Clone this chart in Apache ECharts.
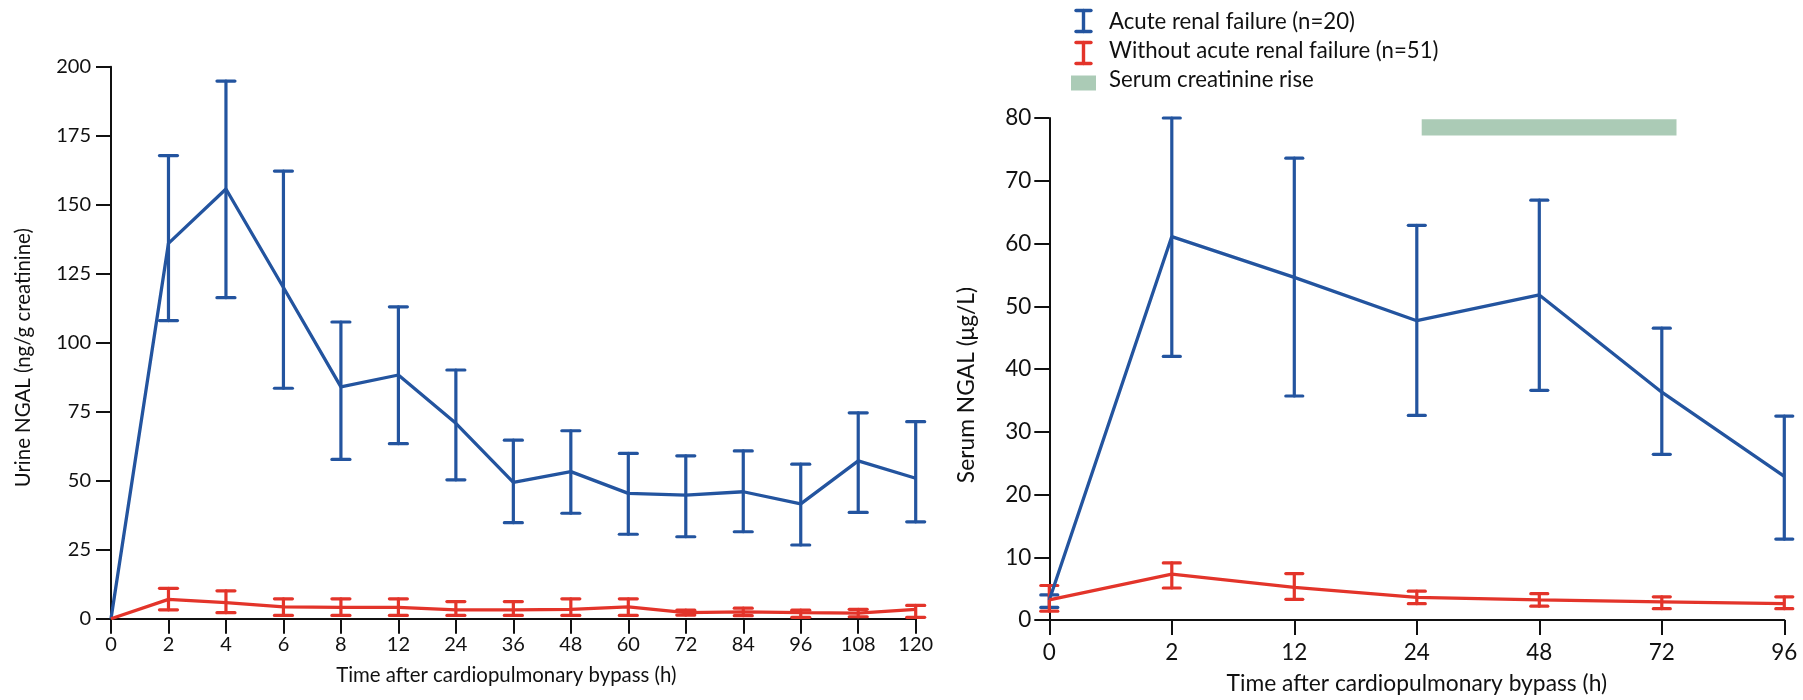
<!DOCTYPE html>
<html>
<head>
<meta charset="utf-8">
<script src="https://cdn.jsdelivr.net/npm/echarts@6/dist/echarts.min.js"></script>
<style>
  html, body { margin: 0; padding: 0; background: #fff; }
  #chart { width: 1803px; height: 700px; }
</style>
</head>
<body>
<div id="chart"></div>
<script>
// Urine NGAL (left panel), time points after cardiopulmonary bypass
const urineHours = ['0', '2', '4', '6', '8', '12', '24', '36', '48', '60', '72', '84', '96', '108', '120'];
const urineArfMean  = [0, 136, 155.7, 120, 84, 88.3, 70.8, 49.4, 53.3, 45.4, 44.8, 46, 41.6, 57.2, 50.9];
const urineArfUpper = [null, 167.8, 194.8, 162.2, 107.5, 113, 90.1, 64.7, 68.1, 59.9, 59, 60.8, 56, 74.6, 71.4];
const urineArfLower = [null, 108, 116.3, 83.5, 57.7, 63.4, 50.3, 34.8, 38.2, 30.6, 29.7, 31.5, 26.7, 38.5, 35.1];
const urineNoArfMean  = [0, 7, 5.8, 4.3, 4.1, 4.1, 3.2, 3.2, 3.4, 4.3, 2.2, 2.5, 2.2, 2.0, 3.4];
const urineNoArfUpper = [null, 11, 10.1, 7.2, 7.2, 7.2, 6.2, 6.2, 7.2, 7.2, 3.1, 3.8, 3.1, 3.4, 4.8];
const urineNoArfLower = [null, 3.2, 2.2, 1.2, 1.2, 1.2, 1.2, 1.2, 1.2, 1.2, 1.3, 1.1, 0.5, 0.7, 0.5];
const urineTicks = [0, 25, 50, 75, 100, 125, 150, 175, 200];

// Serum NGAL (right panel)
const serumHours = ['0', '2', '12', '24', '48', '72', '96'];
const serumArfMean  = [3.2, 61.1, 54.6, 47.7, 51.8, 36.3, 22.9];
const serumArfUpper = [4.0, 80, 73.6, 62.9, 66.9, 46.5, 32.5];
const serumArfLower = [2.0, 42.0, 35.7, 32.6, 36.6, 26.4, 12.9];
const serumNoArfMean  = [3.2, 7.3, 5.2, 3.6, 3.2, 2.9, 2.6];
const serumNoArfUpper = [5.5, 9.1, 7.4, 4.6, 4.2, 3.7, 3.7];
const serumNoArfLower = [1.4, 5.1, 3.3, 2.6, 2.2, 1.8, 1.8];
const serumTicks = [0, 10, 20, 30, 40, 50, 60, 70, 80];

// Serum creatinine rise span: [start, end] along the time-point axis, [low, high] in µg/L
const creatinineRise = [[3.04, 5.12, 77.2, 79.8]];

const seriesNames = ['Acute renal failure (n=20)', 'Without acute renal failure (n=51)', 'Serum creatinine rise'];

const BLUE = '#23549f';
const RED = '#e3342a';
const GREEN = '#abcbb6';
const FONT = 'Lato';

function errorData(upper, lower) {
  const out = [];
  upper.forEach((u, i) => { if (u != null) out.push([i, u, lower[i]]); });
  return out;
}

function errorRenderer(color, capW) {
  return function (params, api) {
    const x = api.value(0);
    const top = api.coord([x, api.value(1)]);
    const bot = api.coord([x, api.value(2)]);
    const st = { stroke: color, lineWidth: 3.2, lineCap: 'round' };
    const h = capW / 2;
    return {
      type: 'group',
      children: [
        { type: 'line', shape: { x1: top[0], y1: top[1], x2: bot[0], y2: bot[1] }, style: st },
        { type: 'line', shape: { x1: top[0] - h, y1: top[1], x2: top[0] + h, y2: top[1] }, style: st },
        { type: 'line', shape: { x1: bot[0] - h, y1: bot[1], x2: bot[0] + h, y2: bot[1] }, style: st }
      ]
    };
  };
}

function barRenderer(params, api) {
  const p0 = api.coord([api.value(0), api.value(3)]);
  const p1 = api.coord([api.value(1), api.value(2)]);
  return {
    type: 'rect',
    shape: { x: p0[0], y: p0[1], width: p1[0] - p0[0], height: p1[1] - p0[1] },
    style: { fill: GREEN }
  };
}

function catAxis(gridIndex, data, fontSize, margin, name, nameGap, nameSize, namePad) {
  return {
    type: 'category', gridIndex, data, boundaryGap: false,
    axisLine: { lineStyle: { color: '#111', width: 2 } },
    axisTick: { alignWithLabel: true, length: 15, inside: false, lineStyle: { color: '#111', width: 2 } },
    axisLabel: { color: '#111', fontSize, fontFamily: FONT, margin, interval: 0 },
    name, nameLocation: 'middle', nameGap,
    nameTextStyle: { color: '#111', fontSize: nameSize, fontFamily: FONT, padding: namePad }
  };
}

function valAxis(gridIndex, ticks, fontSize, margin, name, nameGap, nameSize, namePad) {
  return {
    type: 'value', gridIndex,
    min: ticks[0], max: ticks[ticks.length - 1], interval: ticks[1] - ticks[0],
    splitLine: { show: false },
    axisLine: { show: true, lineStyle: { color: '#111', width: 2 } },
    axisTick: { show: true, length: 15, lineStyle: { color: '#111', width: 2 } },
    axisLabel: { color: '#111', fontSize, fontFamily: FONT, margin },
    name, nameLocation: 'middle', nameGap,
    nameTextStyle: { color: '#111', fontSize: nameSize, fontFamily: FONT, padding: namePad }
  };
}

const chart = echarts.init(document.getElementById('chart'), null, { renderer: 'canvas' });

// legend drawn as graphic items: error-bar glyphs and a swatch
const legendX = 1109;
const legendRows = [22, 51, 80];
function iGlyph(cx, cy, color) {
  const st = { stroke: color, lineWidth: 3.4, lineCap: 'round' };
  return [
    { type: 'line', shape: { x1: cx, y1: cy - 10.5, x2: cx, y2: cy + 10.5 }, style: st },
    { type: 'line', shape: { x1: cx - 7.5, y1: cy - 10.5, x2: cx + 7.5, y2: cy - 10.5 }, style: st },
    { type: 'line', shape: { x1: cx - 7.5, y1: cy + 10.5, x2: cx + 7.5, y2: cy + 10.5 }, style: st }
  ];
}

const legendGraphics = [].concat(
  iGlyph(1083.5, 21, BLUE),
  iGlyph(1083.5, 53, RED),
  [{ type: 'rect', shape: { x: 1071, y: 75.5, width: 25, height: 15 }, style: { fill: GREEN } }],
  seriesNames.map((t, i) => ({
    type: 'text', x: legendX, y: legendRows[i],
    style: { text: t, fill: '#111', font: '22.2px ' + FONT, textVerticalAlign: 'middle' }
  }))
);

chart.setOption({
  animation: false,
  backgroundColor: '#fff',
  grid: [
    { left: 111, top: 66.7, right: 887.3, bottom: 81.3 },
    { left: 1049.3, top: 118, right: 18.7, bottom: 79 }
  ],
  xAxis: [
    catAxis(0, urineHours, 20, 16, 'Time after cardiopulmonary bypass (h)', 47, 20.4, [0, 14, 0, 0]),
    catAxis(1, serumHours, 22.5, 21, 'Time after cardiopulmonary bypass (h)', 52, 22.8, 0),
    { type: 'value', gridIndex: 1, min: 0, max: serumHours.length - 1, show: false }
  ],
  yAxis: [
    valAxis(0, urineTicks, 20, 20, 'Urine NGAL (ng/g creatinine)', 78, 20.4, [0, 30, 0, 0]),
    valAxis(1, serumTicks, 22.5, 18, 'Serum NGAL (μg/L)', 71, 22.8, [0, 32, 0, 0])
  ],
  graphic: legendGraphics,
  series: [
    { type: 'custom', xAxisIndex: 2, yAxisIndex: 1, renderItem: barRenderer, data: creatinineRise, clip: false, silent: true },
    { type: 'line', name: seriesNames[0], xAxisIndex: 0, yAxisIndex: 0, data: urineArfMean, showSymbol: false, lineStyle: { color: BLUE, width: 3.3 } },
    { type: 'custom', xAxisIndex: 0, yAxisIndex: 0, renderItem: errorRenderer(BLUE, 18), data: errorData(urineArfUpper, urineArfLower), clip: false },
    { type: 'line', name: seriesNames[1], xAxisIndex: 0, yAxisIndex: 0, data: urineNoArfMean, showSymbol: false, lineStyle: { color: RED, width: 3.3 } },
    { type: 'custom', xAxisIndex: 0, yAxisIndex: 0, renderItem: errorRenderer(RED, 18), data: errorData(urineNoArfUpper, urineNoArfLower), clip: false },
    { type: 'line', name: seriesNames[0], xAxisIndex: 1, yAxisIndex: 1, data: serumArfMean, showSymbol: false, lineStyle: { color: BLUE, width: 3.3 } },
    { type: 'custom', xAxisIndex: 1, yAxisIndex: 1, renderItem: errorRenderer(BLUE, 17), data: errorData(serumArfUpper, serumArfLower), clip: false },
    { type: 'line', name: seriesNames[1], xAxisIndex: 1, yAxisIndex: 1, data: serumNoArfMean, showSymbol: false, lineStyle: { color: RED, width: 3.3 } },
    { type: 'custom', xAxisIndex: 1, yAxisIndex: 1, renderItem: errorRenderer(RED, 17), data: errorData(serumNoArfUpper, serumNoArfLower), clip: false }
  ]
});
</script>
</body>
</html>
